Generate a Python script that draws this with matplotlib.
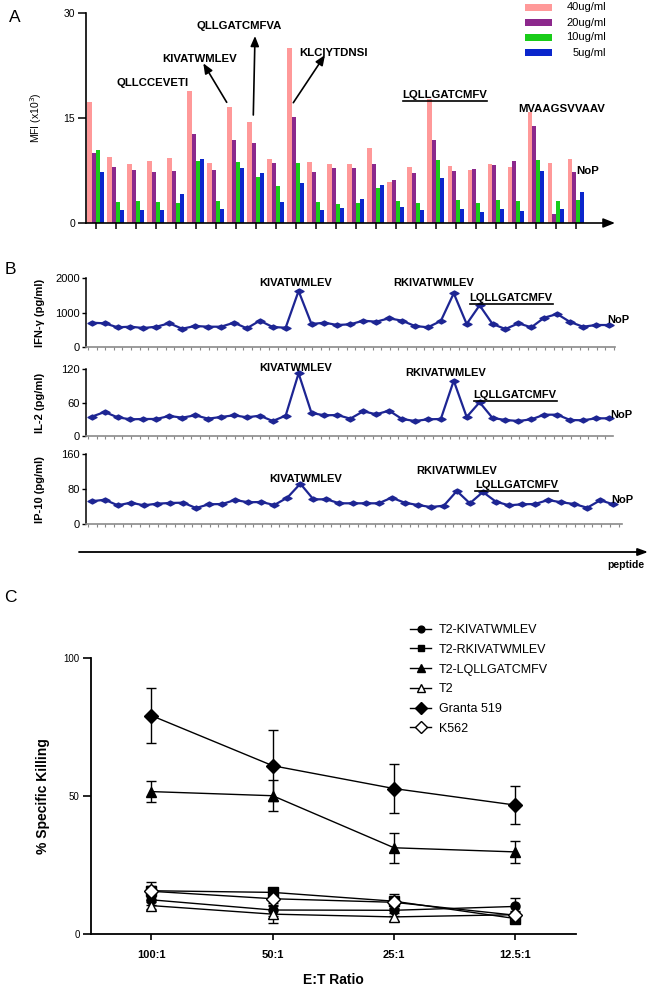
import matplotlib
matplotlib.use('Agg')
import matplotlib.pyplot as plt
import numpy as np
from matplotlib.path import Path
from matplotlib.lines import Line2D
from matplotlib.patches import Rectangle

plt.rcParams['font.family'] = ['Liberation Sans', 'DejaVu Sans']

# ---------------- data ----------------
# Panel A: MFI (x10^3) of 25 peptides at four concentrations
conc_labels = ['40ug/ml', '20ug/ml', '10ug/ml', '5ug/ml']
mfi_40 = [17.3, 9.4, 8.5, 8.9, 9.3, 18.9, 8.6, 16.6, 14.4, 9.1, 25.0, 8.7, 8.5,
          8.5, 10.7, 5.9, 8.0, 17.7, 8.1, 7.6, 8.4, 8.0, 15.8, 8.6, 9.1]
mfi_20 = [10.0, 8.0, 7.6, 7.3, 7.5, 12.7, 7.6, 11.9, 11.5, 8.6, 15.2, 7.3, 7.8,
          7.9, 8.4, 6.2, 7.2, 11.9, 7.4, 7.7, 8.3, 8.8, 13.9, 1.3, 7.3]
mfi_10 = [10.5, 3.0, 3.1, 3.0, 2.8, 8.9, 3.1, 8.7, 6.6, 5.3, 8.6, 3.0, 2.7,
          2.8, 5.0, 3.1, 2.9, 9.0, 3.3, 2.9, 3.3, 3.1, 9.0, 3.1, 3.3]
mfi_5 = [7.3, 1.8, 1.9, 1.8, 4.1, 9.1, 2.0, 7.8, 7.1, 3.0, 5.7, 1.9, 2.1,
         3.5, 5.4, 2.3, 1.8, 6.5, 2.0, 1.6, 2.0, 1.7, 7.4, 2.0, 4.4]
mfi_ticks = [0, 15, 30]

# Panel B: cytokines (pg/ml) for 41 peptides
ifng = [713, 695, 580, 597, 559, 597, 695, 539, 617, 597, 597, 713, 551, 771,
        588, 568, 1632, 675, 713, 646, 667, 771, 742, 841, 771, 617, 580, 762,
        1565, 675, 1217, 675, 530, 695, 580, 858, 965, 733, 597, 646, 646]
il2 = [35.1, 43.5, 34.0, 30.4, 31.0, 31.0, 36.4, 33.4, 37.6, 31.6, 34.6, 37.6,
       34.0, 36.9, 27.4, 36.9, 112.8, 41.7, 37.6, 38.1, 31.6, 44.8, 39.4, 45.9,
       31.0, 27.4, 30.4, 31.0, 99.6, 34.6, 60.9, 32.8, 29.2, 27.4, 30.4, 38.7,
       38.7, 29.2, 28.7, 32.2, 32.2]
ip10 = [52.6, 56.2, 43.4, 49.4, 43.4, 47.1, 48.7, 49.4, 37.3, 45.7, 46.4, 55.5,
        50.3, 51.0, 44.1, 60.8, 92.8, 57.1, 57.1, 48.0, 48.0, 48.0, 48.0, 60.8,
        49.4, 44.1, 39.5, 42.5, 76.1, 48.0, 73.8, 51.7, 43.4, 45.7, 46.4, 55.5,
        50.3, 46.4, 37.9, 54.9, 45.7]
ifng_ticks = [0, 1000, 2000]
il2_ticks = [0, 60, 120]
ip10_ticks = [0, 80, 160]

# Panel C: % specific killing
et_ratios = ['100:1', '50:1', '25:1', '12.5:1']
kill_kiva = [12.3, 8.6, 8.5, 9.9]
kill_kiva_err = [2.0, 2.0, 2.0, 3.0]
kill_rkiva = [15.6, 15.0, 11.8, 5.5]
kill_rkiva_err = [3.2, 1.0, 2.5, 1.0]
kill_lqll = [51.6, 50.1, 31.2, 29.7]
kill_lqll_err = [3.9, 5.6, 5.5, 4.0]
kill_t2 = [10.2, 7.1, 6.1, 6.9]
kill_t2_err = [1.4, 3.1, 1.5, 1.5]
kill_granta = [79.2, 61.0, 52.7, 46.7]
kill_granta_err = [10.0, 12.8, 9.0, 7.0]
kill_k562 = [15.4, 12.7, 11.4, 6.7]
kill_k562_err = [2.0, 1.5, 1.5, 1.0]
kill_ticks = [0, 50, 100]

# ---------------- figure ----------------
W, H = 651, 992
fig = plt.figure(figsize=(W / 100, H / 100), dpi=100)


def add_ax(l, t, r, b):
    return fig.add_axes([l / W, 1 - b / H, (r - l) / W, (b - t) / H])


def ftext(x, y, s, **kw):
    kw.setdefault('ha', 'center')
    kw.setdefault('va', 'center')
    return fig.text(x / W, 1 - y / H, s, **kw)


underlined = []


def utext(x, y, s, **kw):
    t = ftext(x, y, s, **kw)
    underlined.append(t)
    return t


# ===== Panel A =====
axA = add_ax(86, 13, 615, 223)
n = len(mfi_40)
xg = np.arange(n)
bw = 0.21
colsA = ['#ff9999', '#8c288c', '#19cc19', '#0a26cc']
for k, (vals, c) in enumerate(zip([mfi_40, mfi_20, mfi_10, mfi_5], colsA)):
    axA.bar(xg + (k - 1.5) * bw, vals, width=bw, color=c, linewidth=0)
axA.set_xlim(-0.485, 25.95)
axA.set_ylim(0, 30)
axA.set_xticks(xg)
axA.set_xticklabels([])
axA.set_yticks(mfi_ticks)
axA.tick_params(axis='y', length=6, width=1.1, labelsize=7.5, pad=2)
axA.tick_params(axis='x', length=4, width=1.1, direction='out')
for s in ['top', 'right', 'bottom']:
    axA.spines[s].set_visible(False)
axA.spines['left'].set_linewidth(1.2)
axA.annotate('', xy=(1, 0), xytext=(0, 0), xycoords='axes fraction',
             textcoords='axes fraction',
             arrowprops=dict(arrowstyle='-|>,head_length=0.7,head_width=0.28',
                             lw=1.2, color='k', shrinkA=0, shrinkB=0))
axA.set_ylabel('MFI (x10$^3$)', fontsize=7.5, labelpad=14)

# legend A
for i, (lab, c) in enumerate(zip(conc_labels, colsA)):
    yy = 7.5 + 15 * i
    fig.patches.append(Rectangle((525 / W, 1 - (yy + 3.5) / H), 27 / W, 7 / H,
                                 transform=fig.transFigure, color=c, lw=0))
    ftext(606, yy, lab, ha='right', fontsize=8)

bold = dict(fontsize=8.2, fontweight='bold')
ftext(153, 83, 'QLLCCEVETI', **bold)
ftext(200, 59, 'KIVATWMLEV', **bold)
ftext(239, 26, 'QLLGATCMFVA', **bold)
ftext(334, 53, 'KLCIYTDNSI', **bold)
utext(445, 95.5, 'LQLLGATCMFV', **bold)
ftext(562, 109.5, 'MVAAGSVVAAV', **bold)
ftext(588, 171.5, 'NoP', **bold)


def farrow(x0, y0, x1, y1):
    axA.annotate('', xy=(x1 / W, 1 - y1 / H), xytext=(x0 / W, 1 - y0 / H),
                 xycoords='figure fraction', textcoords='figure fraction',
                 annotation_clip=False,
                 arrowprops=dict(arrowstyle='-|>,head_length=0.6,head_width=0.25',
                                 lw=1.2, color='k', shrinkA=0, shrinkB=0))


farrow(226.7, 102.3, 203.3, 63.3)
farrow(253.3, 115, 255, 36)
farrow(293.3, 102.7, 325, 55)

ftext(15, 17, 'A', fontsize=12.5)

# ===== Panel B =====
diam = Path([(-1, 0), (0, 0.55), (1, 0), (0, -0.55), (-1, 0)],
            [Path.MOVETO, Path.LINETO, Path.LINETO, Path.LINETO, Path.CLOSEPOLY])
lineB = '#1d2593'
xp = np.arange(len(ifng))
specs = [
    (ifng, ifng_ticks, 'IFN-\u03b3 (pg/ml)', (86, 278.3, 615, 347.3), 12.93),
    (il2, il2_ticks, 'IL-2 (pg/ml)', (86, 369.3, 613, 436.3), 12.93),
    (ip10, ip10_ticks, 'IP-10 (pg/ml)', (86, 454.3, 621.7, 524.3), 13.04),
]
for vals, ticks, lab, box, sp in specs:
    ax = add_ax(*box)
    ax.plot(xp, vals, color=lineB, lw=1.6, marker=diam, markersize=6.5,
            markerfacecolor=lineB, markeredgecolor=lineB, clip_on=False)
    l, t, r, b = box
    x0 = (l - 91.7) / sp
    x1 = (r - 91.7) / sp
    ax.set_xlim(x0, x1)
    ax.set_ylim(0, ticks[-1])
    ax.set_yticks(ticks)
    ax.set_xticks(np.arange(x0 + 0.15, x1, 0.667))
    ax.set_xticklabels([])
    ax.tick_params(axis='x', length=2, width=0.8, color='#888888')
    ax.tick_params(axis='y', length=3, width=1, labelsize=8, pad=1.5)
    for s in ['top', 'right']:
        ax.spines[s].set_visible(False)
    ax.spines['bottom'].set_color('#8a8a8a')
    ax.spines['bottom'].set_linewidth(1.2)
    ax.spines['left'].set_linewidth(1.1)
    ax.set_ylabel(lab, fontsize=8, fontweight='bold', labelpad=4)
    ax.yaxis.set_label_coords(-(86 - 45) / (r - l), 0.5)

bb = dict(fontsize=8, fontweight='bold')
ftext(296, 283.5, 'KIVATWMLEV', **bb)
ftext(434, 283.5, 'RKIVATWMLEV', **bb)
utext(511, 298, 'LQLLGATCMFV', **bb)
ftext(618.5, 320, 'NoP', **bb)
ftext(296, 368, 'KIVATWMLEV', **bb)
ftext(446, 372.5, 'RKIVATWMLEV', **bb)
utext(515, 395, 'LQLLGATCMFV', **bb)
ftext(621, 414.5, 'NoP', **bb)
ftext(306, 479.5, 'KIVATWMLEV', **bb)
ftext(456.7, 471.5, 'RKIVATWMLEV', **bb)
utext(516.7, 485, 'LQLLGATCMFV', **bb)
ftext(622.5, 500, 'NoP', **bb)
ftext(10, 269, 'B', fontsize=12.5)

axA.annotate('', xy=(648 / W, 1 - 552 / H), xytext=(79 / W, 1 - 552 / H),
             xycoords='figure fraction', textcoords='figure fraction',
             annotation_clip=False,
             arrowprops=dict(arrowstyle='-|>,head_length=0.6,head_width=0.22',
                             lw=1.3, color='k', shrinkA=0, shrinkB=0))
ftext(626, 565, 'peptide', fontsize=7.5, fontweight='bold')

# ===== Panel C =====
axC = add_ax(90.7, 658.3, 576, 933.7)
xc = np.arange(len(et_ratios))
series = [
    ('T2-KIVATWMLEV', kill_kiva, kill_kiva_err, 'o', 'k', 6.5),
    ('T2-RKIVATWMLEV', kill_rkiva, kill_rkiva_err, 's', 'k', 6.5),
    ('T2-LQLLGATCMFV', kill_lqll, kill_lqll_err, '^', 'k', 7),
    ('T2', kill_t2, kill_t2_err, '^', 'white', 7),
    ('Granta 519', kill_granta, kill_granta_err, 'D', 'k', 7.5),
    ('K562', kill_k562, kill_k562_err, 'D', 'white', 7.5),
]
for lab, vals, err, mk, fc, ms in series:
    axC.errorbar(xc, vals, yerr=err, color='k', lw=1, marker=mk,
                 markersize=ms, markerfacecolor=fc, markeredgecolor='k',
                 markeredgewidth=1, capsize=3.5, elinewidth=1, capthick=1,
                 label=lab, clip_on=False)
axC.set_xlim(-0.5, 3.5)
axC.set_ylim(0, 100)
axC.set_xticks(xc)
axC.set_xticklabels(et_ratios, fontsize=8, fontweight='bold')
axC.set_yticks(kill_ticks)
axC.tick_params(axis='y', length=6, width=1.2, labelsize=7, pad=2)
axC.tick_params(axis='x', length=4, width=1.2, pad=8)
for s in ['top', 'right']:
    axC.spines[s].set_visible(False)
axC.spines['left'].set_linewidth(1.3)
axC.spines['bottom'].set_linewidth(1.3)
axC.set_ylabel('% Specific Killing', fontsize=10, fontweight='bold')
axC.yaxis.set_label_coords(-(90.7 - 50) / (576 - 90.7), 0.5)
ftext(333, 980, 'E:T Ratio', fontsize=10, fontweight='bold')

leg_handles = [Line2D([], [], color='k', lw=1, marker=mk, markersize=ms * 0.75,
                      markerfacecolor=fc, markeredgecolor='k')
               for lab, vals, err, mk, fc, ms in series]
fig.legend(leg_handles, [s[0] for s in series], loc='upper left',
           bbox_to_anchor=(410 / W, 1 - 624 / H), frameon=False,
           fontsize=9, handlelength=1.7, handletextpad=0.6,
           labelspacing=0.62, borderpad=0, borderaxespad=0)
ftext(10, 598, 'C', fontsize=12.5)

# underlines
fig.canvas.draw()
rend = fig.canvas.get_renderer()
for t in underlined:
    e = t.get_window_extent(rend)
    fig.add_artist(Line2D([e.x0 / fig.bbox.width, e.x1 / fig.bbox.width],
                          [e.y0 / fig.bbox.height - 0.0008] * 2,
                          transform=fig.transFigure, color='k', lw=1.2))

fig.savefig('out.png', dpi=100)
